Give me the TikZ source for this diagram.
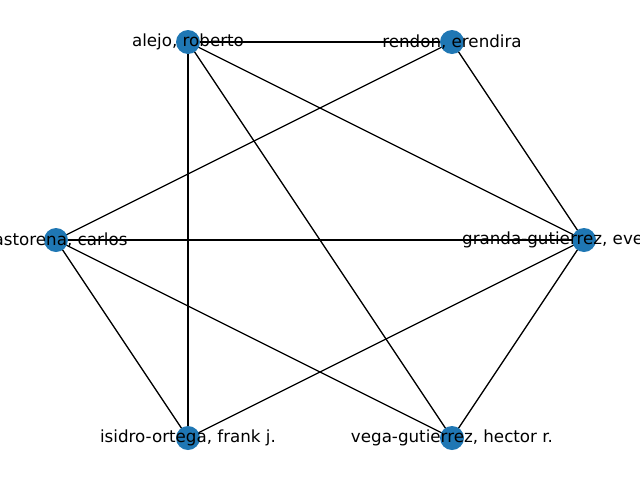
\documentclass[tikz,border=0pt]{standalone}
\usepackage{fontspec}
\setmainfont{DejaVu Sans}
\usetikzlibrary{backgrounds}
\definecolor{nodeblue}{HTML}{1F77B4}

\begin{document}
\begin{tikzpicture}[x=1pt,y=-1pt,
    person/.style={circle,fill=nodeblue,minimum size=24pt,inner sep=0pt},
    personlabel/.style={font=\fontsize{16.7}{20}\selectfont,inner sep=0pt},
    tie/.style={draw=black,line width=1.3pt}]
    \useasboundingbox (0,0) rectangle (640,480);
    \clip (0,0) rectangle (640,480);
    \node[person] (alejo)    at (188,42)  {};
    \node[person] (rendon)   at (452,42)  {};
    \node[person] (granda)   at (584,240) {};
    \node[person] (vega)     at (452,438) {};
    \node[person] (isidro)   at (188,438) {};
    \node[person] (castorena) at (56,240) {};
    \begin{pgfonlayer}{background}
    \path[tie] (alejo.center) edge (rendon.center)
                              edge (isidro.center)
                              edge (vega.center)
                              edge (granda.center)
      (rendon.center) edge (castorena.center)
                      edge (granda.center)
      (castorena.center) edge (granda.center)
                         edge (isidro.center)
                         edge (vega.center)
      (granda.center) edge (isidro.center)
                      edge (vega.center);
    \end{pgfonlayer}
    % labels on top
    \node[personlabel] (alejo-l)     at (alejo)     {alejo, roberto};
    \node[personlabel] (rendon-l)    at (rendon)    {rendon, erendira};
    \node[personlabel,anchor=west] (granda-l) at (462,240) {granda-gutierrez, eve};
    \node[personlabel] (vega-l)      at (vega)      {vega-gutierrez, hector r.};
    \node[personlabel] (isidro-l)    at (isidro)    {isidro-ortega, frank j.};
    \node[personlabel] (castorena-l) at (castorena) {castorena, carlos};
\end{tikzpicture}
\end{document}
